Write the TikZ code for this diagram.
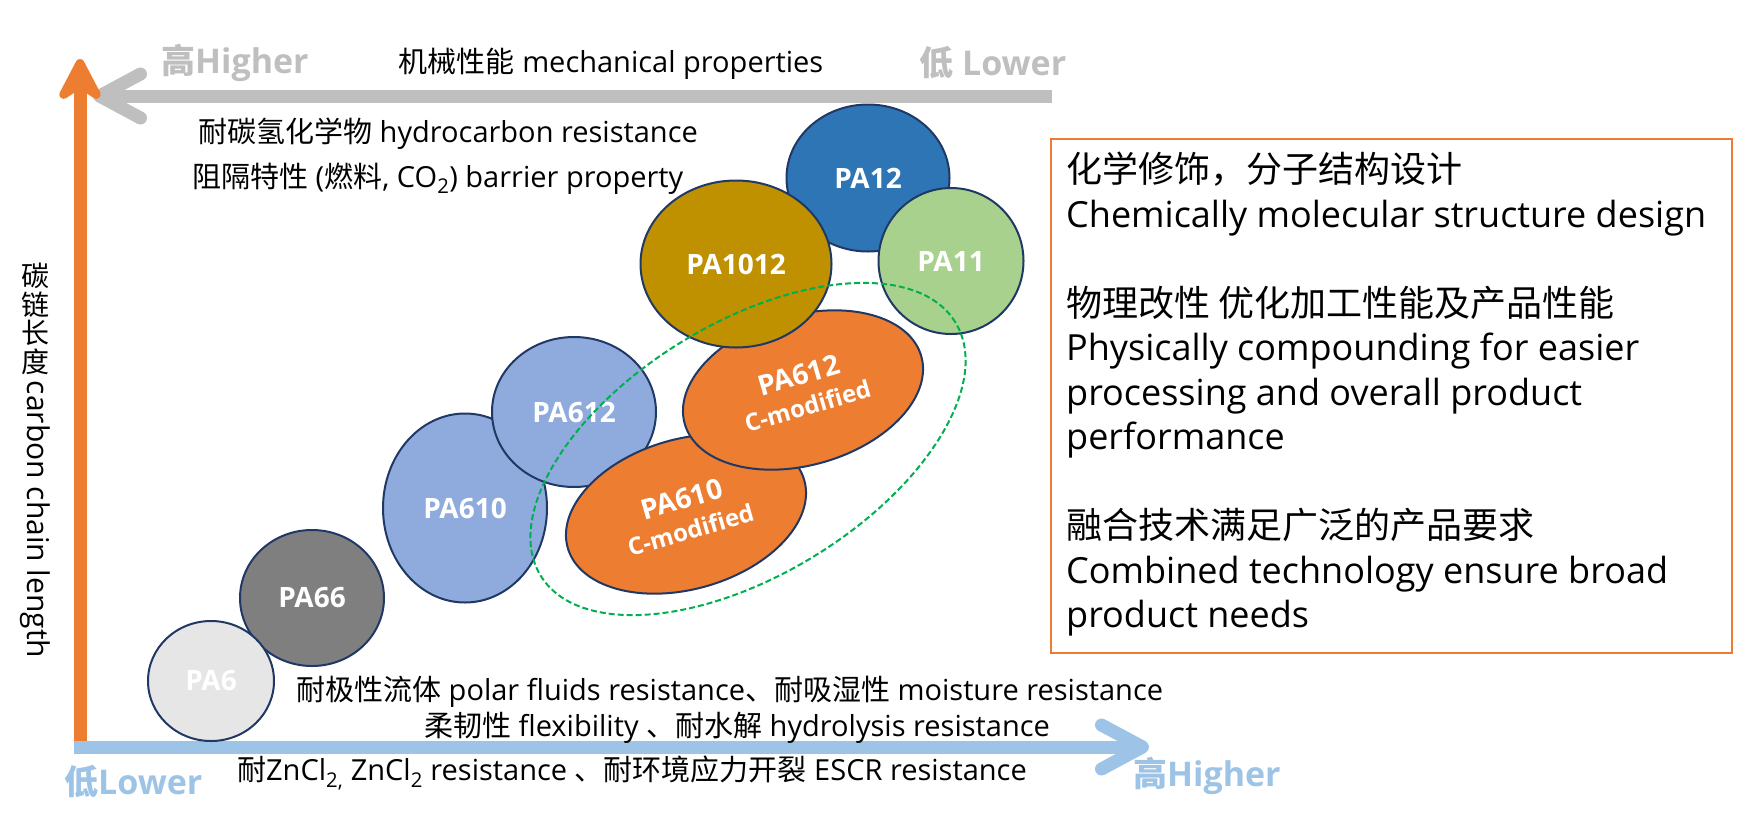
\documentclass[tikz,border=0pt]{standalone}
\usepackage{fontspec}
\setmainfont{Open Sans}
\newfontfamily\cjk{Noto Sans CJK SC}
\usepackage{tikz}
\usetikzlibrary{shapes.geometric,arrows.meta,positioning,calc}
\definecolor{accorange}{HTML}{ED7D31}
\definecolor{accgray}{HTML}{BFBFBF}
\definecolor{accblue}{HTML}{9DC3E6}
\definecolor{accnavy}{HTML}{203864}
\definecolor{accgreen}{HTML}{00B050}
\definecolor{pasix}{HTML}{E7E6E6}
\definecolor{pasixsix}{HTML}{7F7F7F}
\definecolor{pasky}{HTML}{8FAADC}
\definecolor{pagold}{HTML}{BF9000}
\definecolor{padeep}{HTML}{2E75B6}
\definecolor{paleaf}{HTML}{A9D18E}

\begin{document}
\begin{tikzpicture}[x=1pt,y=-1pt,every node/.style={inner sep=0pt},
  txt/.style={font=\fontsize{29}{34}\selectfont},
  endtxt/.style={font=\fontsize{34}{38}\selectfont\bfseries},
  pa/.style={ellipse,draw=accnavy,line width=2pt,text=white,align=center,
    font=\fontsize{28}{32}\selectfont\bfseries},
  axis/.style={line width=13pt}]
  \useasboundingbox (0,0) rectangle (1740,828);
  % Axes
  \coordinate (gR) at (1052,96);
  \coordinate (gL) at (93,96);
  \coordinate (oBot) at (80,742);
  \coordinate (oTop) at (80,59);
  \coordinate (bL) at (74,747);
  \coordinate (bR) at (1149,747);
  \draw[axis,accgray,-{Straight Barb[length=41pt,width=44pt,round]}] (gR) -- (gL);
  \draw[axis,accorange,-{Stealth[length=53pt,width=55pt,inset=18pt,round]}] (oBot) -- (oTop);
  \draw[axis,accblue,-{Straight Barb[length=41pt,width=44pt,round]}] (bL) -- (bR);
  % Axis labels
  \node[endtxt,text=accgray,anchor=west] (ghigh) at (161,63) {{\cjk 高}Higher};
  \node[endtxt,text=accgray,anchor=west] (glow) at (919,63) {{\cjk 低} Lower};
  \node[txt] (mech) at (611,64) {{\cjk 机械性能} mechanical properties};
  \node[endtxt,text=accblue,anchor=west] (blow) at (64,782) {{\cjk 低}Lower};
  \node[endtxt,text=accblue,anchor=west] (bhigh) at (1133,776) {{\cjk 高}Higher};
  \node[anchor=north,align=center,font=\fontsize{28}{28.5}\selectfont\cjk] (vcjk) at (35,263) {碳\\链\\长\\度};
  \node[rotate=-90,anchor=west,font=\fontsize{30}{34}\selectfont] (vlat) at ($(vcjk.south)+(0,6)$) {carbon chain length};
  % Grades
  \node[pa,fill=pasixsix,minimum width=144,minimum height=136] (pa66) at (312,598) {PA66};
  \node[pa,fill=pasix,minimum width=126,minimum height=120] (pa6) at (211,681) {PA6};
  \node[pa,fill=pasky,minimum width=164,minimum height=189] (pa610) at (465,508) {PA610};
  \node[pa,fill=pasky,minimum width=164,minimum height=150] (pa612) at (574,412) {PA612};
  \node[pa,fill=accorange,minimum width=246,minimum height=150,rotate=16] (cm610) at (686,514)
    {PA610\\[-1pt]{\fontsize{24}{28}\selectfont C-modified}};
  \node[pa,fill=accorange,minimum width=246,minimum height=150,rotate=16] (cm612) at (803,390)
    {PA612\\[-1pt]{\fontsize{24}{28}\selectfont C-modified}};
  \node[pa,fill=padeep,minimum width=163,minimum height=147] (pa12) at (868,178) {PA12};
  \node[pa,fill=pagold,minimum width=191,minimum height=167] (pa1012) at (736,264) {PA1012};
  \node[pa,fill=paleaf,minimum width=145,minimum height=146] (pa11) at (951,261) {PA11};
  \node[ellipse,draw=accgreen,line width=2pt,dash pattern=on 6pt off 3pt,
    minimum width=486,minimum height=252,rotate=31.4] (cmgroup) at (748,449) {};
  % Property labels
  \node[txt,anchor=west] (hcres) at (198,134) {{\cjk 耐碳氢化学物} hydrocarbon resistance};
  \node[txt,anchor=west] (barrier) at (192,179) {{\cjk 阻隔特性} ({\cjk 燃料}, CO\textsubscript{2}) barrier property};
  \node[txt,anchor=west] (polar) at (296,692) {{\cjk 耐极性流体} polar fluids resistance{\cjk 、耐吸湿性} moisture resistance};
  \node[txt] (flex) at (737,728) {{\cjk 柔韧性} flexibility {\cjk 、耐水解} hydrolysis resistance};
  \node[txt] (zncl) at (632,773) {{\cjk 耐}ZnCl\textsubscript{2,} ZnCl\textsubscript{2} resistance {\cjk 、耐环境应力开裂} ESCR resistance};
  % Summary box
  \node[draw=accorange,line width=2pt,minimum width=681,minimum height=514,anchor=north west] (box) at (1050,138) {};
  \node[anchor=north west,align=left,font=\fontsize{36}{44.5}\selectfont] (boxtext) at ($(box.north west)+(16,14)$)
    {{\cjk 化学修饰，分子结构设计}\\
     Chemically molecular structure design\\[44.5pt]
     {\cjk 物理改性 优化加工性能及产品性能}\\
     Physically compounding for easier\\
     processing and overall product\\
     performance\\[44.5pt]
     {\cjk 融合技术满足广泛的产品要求}\\
     Combined technology ensure broad\\
     product needs};
\end{tikzpicture}
\end{document}
